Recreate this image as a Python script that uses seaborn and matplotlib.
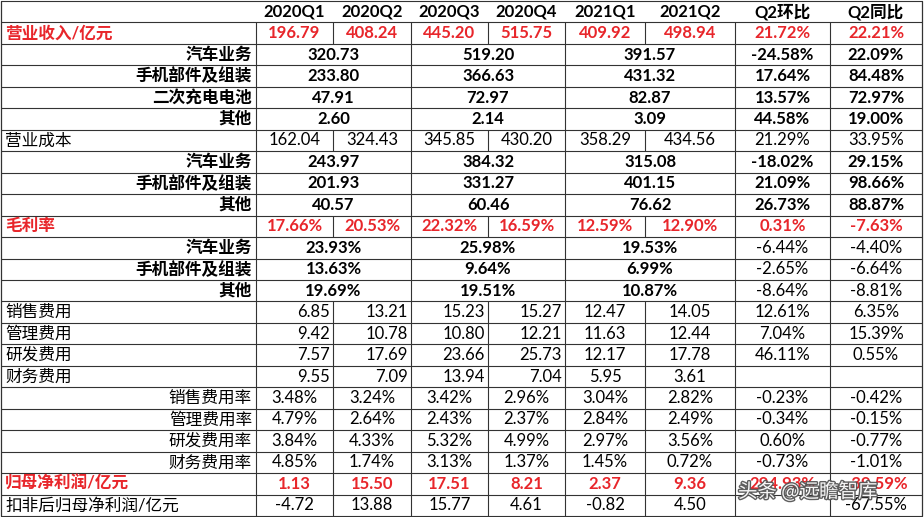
import matplotlib
matplotlib.use("Agg")
import matplotlib.pyplot as plt
import matplotlib.patheffects as pe
import seaborn as sns

sns.set_theme(style="white")
plt.rcParams["font.family"] = ["Lato", "Noto Sans CJK SC"]

headers = ["2020Q1", "2020Q2", "2020Q3", "2020Q4", "2021Q1", "2021Q2", "Q2环比", "Q2同比"]
labels = ["营业收入/亿元", "汽车业务", "手机部件及组装", "二次充电电池", "其他",
          "营业成本", "汽车业务", "手机部件及组装", "其他",
          "毛利率", "汽车业务", "手机部件及组装", "其他",
          "销售费用", "管理费用", "研发费用", "财务费用",
          "销售费用率", "管理费用率", "研发费用率", "财务费用率",
          "归母净利润/亿元", "扣非后归母净利润/亿元"]
kinds = ["red", "seg", "seg", "seg", "seg",
         "left", "seg", "seg", "seg",
         "red", "segr", "segr", "segr",
         "leftr", "leftr", "leftr", "leftr",
         "rate", "rate", "rate", "rate",
         "red", "left"]
values = [
    ["196.79", "408.24", "445.20", "515.75", "409.92", "498.94", "21.72%", "22.21%"],
    ["320.73", "519.20", "391.57", "-24.58%", "22.09%"],
    ["233.80", "366.63", "431.32", "17.64%", "84.48%"],
    ["47.91", "72.97", "82.87", "13.57%", "72.97%"],
    ["2.60", "2.14", "3.09", "44.58%", "19.00%"],
    ["162.04", "324.43", "345.85", "430.20", "358.29", "434.56", "21.29%", "33.95%"],
    ["243.97", "384.32", "315.08", "-18.02%", "29.15%"],
    ["201.93", "331.27", "401.15", "21.09%", "98.66%"],
    ["40.57", "60.46", "76.62", "26.73%", "88.87%"],
    ["17.66%", "20.53%", "22.32%", "16.59%", "12.59%", "12.90%", "0.31%", "-7.63%"],
    ["23.93%", "25.98%", "19.53%", "-6.44%", "-4.40%"],
    ["13.63%", "9.64%", "6.99%", "-2.65%", "-6.64%"],
    ["19.69%", "19.51%", "10.87%", "-8.64%", "-8.81%"],
    ["6.85", "13.21", "15.23", "15.27", "12.47", "14.05", "12.61%", "6.35%"],
    ["9.42", "10.78", "10.80", "12.21", "11.63", "12.44", "7.04%", "15.39%"],
    ["7.57", "17.69", "23.66", "25.73", "12.17", "17.78", "46.11%", "0.55%"],
    ["9.55", "7.09", "13.94", "7.04", "5.95", "3.61", "", ""],
    ["3.48%", "3.24%", "3.42%", "2.96%", "3.04%", "2.82%", "-0.23%", "-0.42%"],
    ["4.79%", "2.64%", "2.43%", "2.37%", "2.84%", "2.49%", "-0.34%", "-0.15%"],
    ["3.84%", "4.33%", "5.32%", "4.99%", "2.97%", "3.56%", "0.60%", "-0.77%"],
    ["4.85%", "1.74%", "3.13%", "1.37%", "1.45%", "0.72%", "-0.73%", "-1.01%"],
    ["1.13", "15.50", "17.51", "8.21", "2.37", "9.36", "294.93%", "-39.59%"],
    ["-4.72", "13.88", "15.77", "4.61", "-0.82", "4.50", "", "-67.55%"],
]

W, H = 924, 517
edges = [1, 256, 333, 411, 488, 565, 645, 735, 830, 922]
nrows = len(labels) + 1
rh = (H - 2) / nrows
RED = "#e8262b"
FS = 12

fig = plt.figure(figsize=(9.24, 5.17), dpi=100)
ax = fig.add_axes([0, 0, 1, 1])
ax.set_xlim(0, W)
ax.set_ylim(H, 0)
ax.axis("off")

def yc(r):
    return 1 + (r + 0.5) * rh

for j, h in enumerate(headers):
    ax.text((edges[j + 1] + edges[j + 2]) / 2, yc(0), h, ha="center", va="center",
            fontsize=FS, fontweight="bold", color="black")
for r in range(nrows + 1):
    ax.plot([edges[0], edges[-1]], [1 + r * rh] * 2, color="#333333", lw=0.8)
ax.plot([edges[0]] * 2, [1, 1 + nrows * rh], color="#333333", lw=0.9)
ax.plot([edges[-1]] * 2, [1, 1 + nrows * rh], color="#333333", lw=0.9)

for i, (lab, kind, vals) in enumerate(zip(labels, kinds, values)):
    r = i + 1
    y0, y1 = 1 + r * rh, 1 + (r + 1) * rh
    merged = kind.startswith("seg")
    bold = kind in ("red", "seg", "segr")
    color = RED if kind == "red" else "black"
    if kind in ("red", "left", "leftr"):
        ax.text(edges[0] + 4, yc(r), lab, ha="left", va="center", fontsize=FS,
                fontweight="bold" if kind == "red" else "normal", color=color)
    else:
        ax.text(edges[1] - 4, yc(r), lab, ha="right", va="center", fontsize=FS,
                fontweight="bold" if merged else "normal", color=color)
    if merged:
        spans = [(1, 3), (3, 5), (5, 7), (7, 8), (8, 9)]
    else:
        spans = [(k, k + 1) for k in range(1, 9)]
    for (a, b) in spans:
        ax.plot([edges[a]] * 2, [y0, y1], color="#333333", lw=0.8)
    for (a, b), v in zip(spans, vals):
        wbold = bold and not (kind == "segr" and a >= 7)
        if kind == "leftr" and a <= 4:
            ax.text(edges[b] - 3, yc(r), v, ha="right", va="center", fontsize=FS,
                    color=color)
        else:
            ax.text((edges[a] + edges[b]) / 2, yc(r), v, ha="center", va="center",
                    fontsize=FS, fontweight="bold" if wbold else "normal", color=color)

wm = ax.text(738, 492, "头条 @远瞻智库", ha="left", va="center", fontsize=14,
             color="white", alpha=0.95, fontfamily="Noto Sans CJK SC")
wm.set_path_effects([pe.withStroke(linewidth=2, foreground="#555555")])

fig.savefig("out.png", dpi=100)
